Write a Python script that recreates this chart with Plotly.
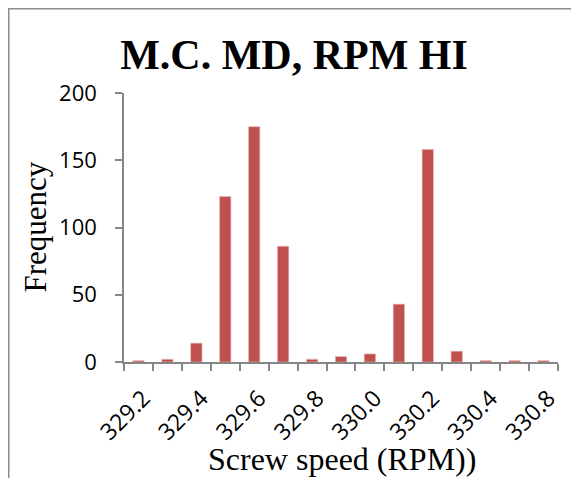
import plotly.graph_objects as go

categories = ["329.2", "329.3", "329.4", "329.5", "329.6", "329.7", "329.8", "329.9",
              "330.0", "330.1", "330.2", "330.3", "330.4", "330.6", "330.8"]
frequency = [1, 2, 14, 123, 175, 86, 2, 4, 6, 43, 158, 8, 1, 1, 1]
tick_labels = [c if i % 2 == 0 else "" for i, c in enumerate(categories)]
y_ticks = [0, 50, 100, 150, 200]

# the page places the figure 8px from the window's top-left corner
OFF = 8
W, H = 579, 478
L, R, T, B = 124 - OFF, 558 - OFF, 93 - OFF, 362 - OFF  # plot area in figure px
pw, ph = R - L, B - T

def px_x(x):
    return (x - OFF - L) / pw

def px_y(y):
    return (B - (y - OFF)) / ph

fig = go.Figure(go.Bar(
    x=categories, y=frequency,
    marker=dict(color="#C0504D", line=dict(color="#E6B8B7", width=0.6)),
))

gray = "#868686"
fig.update_layout(
    width=W, height=H,
    margin=dict(l=L, r=W - R, t=T, b=H - B, autoexpand=False),
    paper_bgcolor="white", plot_bgcolor="white",
    bargap=0.61,
    showlegend=False,
    title=dict(text="<b>M.C. MD, RPM HI</b>", x=(294 - OFF) / W, xanchor="center",
               y=1 - (54 - OFF) / H, yanchor="middle", xref="container", yref="container",
               font=dict(family="Liberation Serif", size=42, color="black")),
    xaxis=dict(type="category", tickmode="array", tickvals=categories, ticktext=tick_labels,
               tickson="boundaries", ticks="outside", ticklen=7, tickcolor=gray, tickwidth=1.5,
               showline=True, linecolor=gray, linewidth=1.5, tickangle=-45,
               showgrid=False, zeroline=False, ticklabelstandoff=12, ticklabelshift=5,
               tickfont=dict(family="Open Sans", size=23, color="black")),
    yaxis=dict(range=[0, 200], tickmode="array", tickvals=y_ticks,
               ticks="outside", ticklen=7, tickcolor=gray, tickwidth=1.5,
               showline=True, linecolor=gray, linewidth=1.5,
               showgrid=False, zeroline=False, ticklabelstandoff=14,
               tickfont=dict(family="Open Sans", size=22, color="black")),
    annotations=[
        dict(text="Frequency", xref="paper", yref="paper", x=px_x(35), y=px_y(227.5),
             xanchor="center", yanchor="middle", textangle=-90, showarrow=False,
             font=dict(family="Liberation Serif", size=31, color="black")),
        dict(text="Screw speed (RPM))", xref="paper", yref="paper", x=px_x(342), y=px_y(459),
             xanchor="center", yanchor="middle", showarrow=False,
             font=dict(family="Liberation Serif", size=32, color="black")),
    ],
    shapes=[
        dict(type="line", xref="paper", yref="paper", x0=px_x(7), x1=px_x(W + 20),
             y0=px_y(8.5), y1=px_y(8.5), line=dict(color="#8c8c8c", width=2)),
        dict(type="line", xref="paper", yref="paper", x0=px_x(8.5), x1=px_x(8.5),
             y0=px_y(8), y1=px_y(H + 20), line=dict(color="#8c8c8c", width=2)),
    ],
)

fig.write_html("out.html")
